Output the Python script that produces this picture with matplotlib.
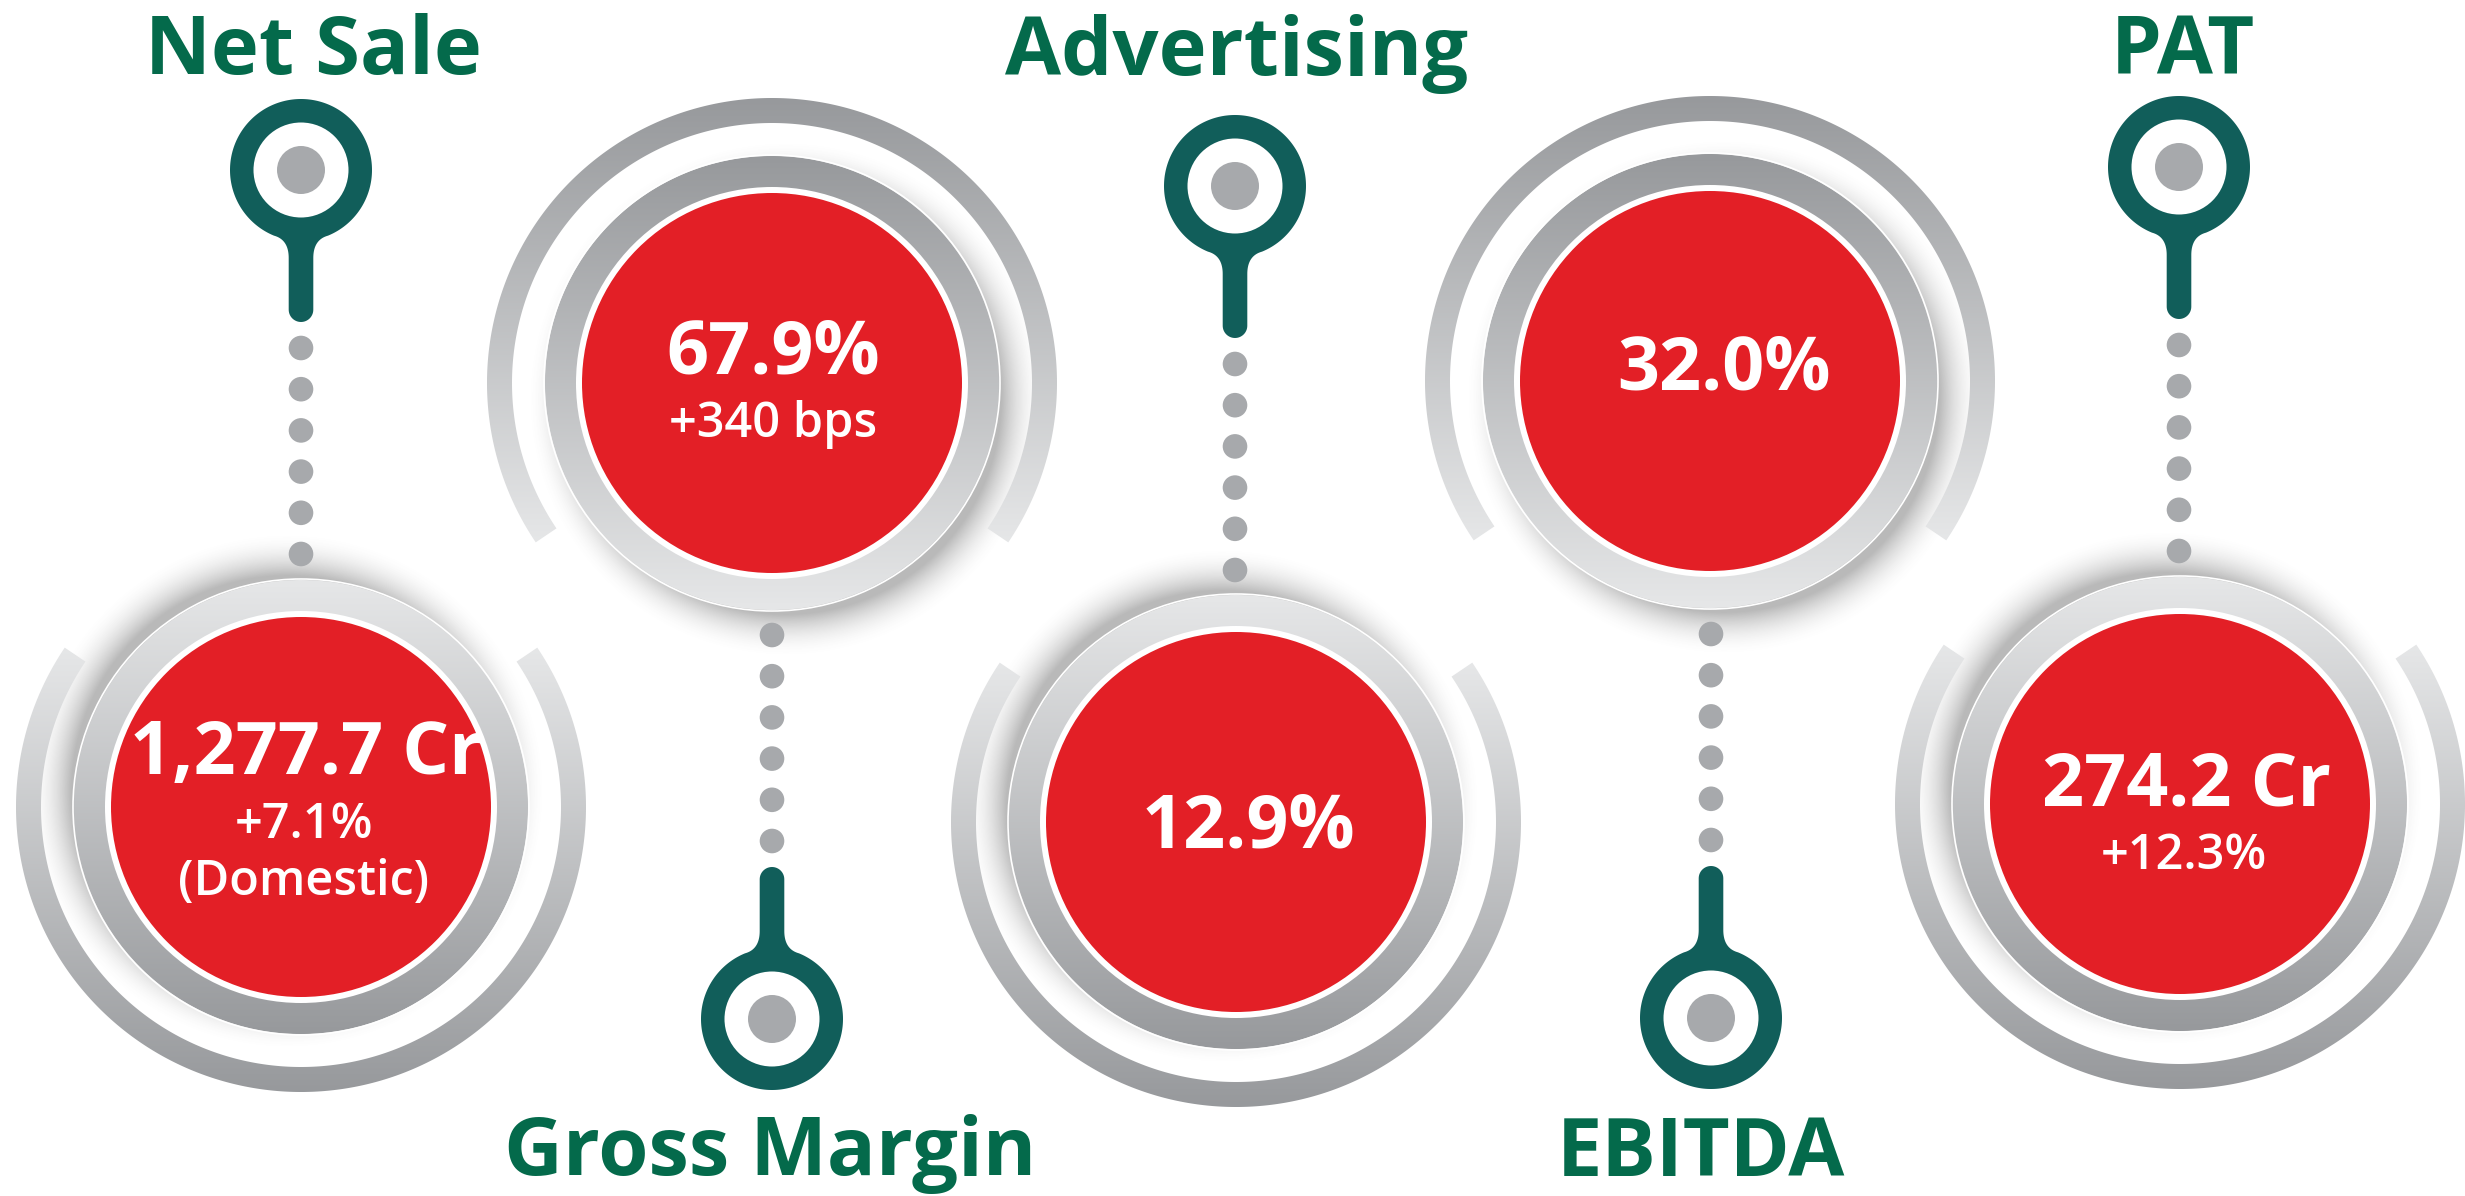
import numpy as np
import matplotlib
matplotlib.use("Agg")
import matplotlib.pyplot as plt
from matplotlib.patches import Circle, PathPatch
from matplotlib.path import Path
from matplotlib.colors import LinearSegmentedColormap

# ---- content ----
titles = ["Net Sale", "Gross Margin", "Advertising", "EBITDA", "PAT"]
main_values = ["1,277.7 Cr", "67.9%", "12.9%", "32.0%", "274.2 Cr"]
sub_values = [["+7.1%", "(Domestic)"], ["+340 bps"], [], [], ["+12.3%"]]

# ---- layout (pixels) ----
W, H = 2465, 1196
ring_cx = [301, 772, 1236, 1710, 2180]
ring_cy = [807, 383, 822, 381, 804]
pin_x = [301, 772, 1235, 1711, 2179]
pin_y = [170, 1019, 186, 1018, 167]
title_x = [313, 770, 1237, 1701, 2183]
title_base = [74, 1175, 75, 1176, 75]
main_x = [306, 773, 1248, 1724, 2186]
main_base = [774, 373, 848, 389, 806]
sub_x = [[304, 304], [773], [], [], [2184]]
sub_base = [[838, 895], [437], [], [], [869]]
pin_down = [True, False, True, False, True]
n_dots = 6

RED = "#e31f26"
TEAL = "#115e5a"
GREEN = "#046a4b"
DOT = "#a7a9ac"
LIGHT = "#e6e7e8"
DARK = "#97999c"
FONT = "Open Sans"

fig = plt.figure(figsize=(W / 100, H / 100), dpi=100)
ax = fig.add_axes([0, 0, 1, 1])
ax.set_axis_off()


def annulus(cx, cy, r_out, r_in, a0=0.0, a1=360.0):
    """angles measured in screen sense, clockwise from +x with y pointing down"""
    t = np.radians(np.linspace(a0, a1, 400))
    outer = np.c_[cx + r_out * np.cos(t), cy + r_out * np.sin(t)]
    inner = np.c_[cx + r_in * np.cos(t[::-1]), cy + r_in * np.sin(t[::-1])]
    if a1 - a0 >= 360:
        v = np.vstack([outer, outer[:1], inner, inner[:1]])
        c = ([Path.MOVETO] + [Path.LINETO] * 399 + [Path.CLOSEPOLY]) * 2
        return Path(v, c)
    v = np.vstack([outer, inner, outer[:1]])
    c = [Path.MOVETO] + [Path.LINETO] * 799 + [Path.CLOSEPOLY]
    return Path(v, c)


def gradient(path, top, bottom, y_top, y_bottom, x0, x1, z):
    cm = LinearSegmentedColormap.from_list("g", [top, bottom])
    arr = np.linspace(0, 1, 256).reshape(-1, 1)
    im = ax.imshow(arr, cmap=cm, vmin=0, vmax=1, origin="upper", aspect="auto",
                   extent=(x0, x1, y_bottom, y_top), zorder=z, interpolation="bilinear")
    patch = PathPatch(path, fc="none", ec="none", transform=ax.transData)
    ax.add_patch(patch)
    im.set_clip_path(patch)


def shadow(cx, cy, r, dx, dy, width, strength, z):
    s = r + width + 30
    xs = np.arange(cx - s, cx + s + 1)
    ys = np.arange(cy - s, cy + s + 1)
    X, Y = np.meshgrid(xs, ys)
    d = np.hypot(X - cx - dx, Y - cy - dy)
    a = np.clip(1 - (d - r) / width, 0, 1) ** 2 * strength
    rgba = np.zeros(X.shape + (4,))
    rgba[..., :3] = 0.35
    rgba[..., 3] = a
    ax.imshow(rgba, origin="upper", aspect="auto", zorder=z,
              extent=(xs[0], xs[-1], ys[-1], ys[0]), interpolation="bilinear")


def pin_path(x, y, sign):
    # outline of the pin head + stem, built on the right side then mirrored
    R, hw, neck_x, stem = 71.0, 12.3, 27.0, 152.0
    neck_y = np.sqrt(R ** 2 - neck_x ** 2)
    start = np.arctan2(neck_y, neck_x)
    a = np.linspace(start, np.pi - start - 2 * np.pi, 300)
    head = np.c_[R * np.cos(a), R * np.sin(a)]
    u = np.linspace(0, 1, 30)[:, None]
    p0, p1, p2 = np.array([-neck_x, neck_y]), np.array([-hw, neck_y + 4]), np.array([-hw, 88.0])
    left = (1 - u) ** 2 * p0 + 2 * u * (1 - u) * p1 + u ** 2 * p2
    b = np.linspace(np.pi, 0, 30)
    cap = np.c_[hw * np.cos(b), stem - hw + hw * np.sin(b)]
    right = left[::-1] * np.array([-1, 1])
    pts = np.vstack([head, left, cap, right])
    pts = np.c_[x + pts[:, 0], y + sign * pts[:, 1]]
    return Path(np.vstack([pts, pts[:1]]), [Path.MOVETO] + [Path.LINETO] * (len(pts) - 1) + [Path.CLOSEPOLY])


for i in range(len(titles)):
    cx, cy = ring_cx[i], ring_cy[i]
    down = pin_down[i]
    top_col, bot_col = (LIGHT, DARK) if down else (DARK, LIGHT)
    sdx, sdy = (-14, -16) if down else (14, 16)

    # soft shadow behind the ring
    shadow(cx, cy, 216, sdx, sdy, 44, 0.42, 1)

    # outer open arcs (through bottom for the lower circles, through top for the upper)
    gap = 34
    if down:
        arc = annulus(cx, cy, 285, 260, -gap, 180 + gap)
        y0, y1 = cy - 160, cy + 285
    else:
        arc = annulus(cx, cy, 285, 260, 180 - gap, 360 + gap)
        y0, y1 = cy - 285, cy + 160
    gradient(arc, top_col, bot_col, y0, y1, cx - 290, cx + 290, 2)

    # main ring
    ring = annulus(cx, cy, 227, 190)
    gradient(ring, top_col, bot_col, cy - 227, cy + 227, cx - 230, cx + 230, 3)
    ax.add_patch(Circle((cx, cy), 228, fc="none", ec="white", lw=1.2, zorder=4))

    # red disc with white edge
    ax.add_patch(Circle((cx, cy), 196, fc="white", ec="none", zorder=5))
    ax.add_patch(Circle((cx, cy), 190, fc=RED, ec="none", zorder=6))

    # pin
    sign = 1 if down else -1
    px, py = pin_x[i], pin_y[i]
    ax.add_patch(PathPatch(pin_path(px, py, sign), fc=TEAL, ec="none", zorder=7))
    ax.add_patch(Circle((px, py), 47.5, fc="white", ec="none", zorder=8))
    ax.add_patch(Circle((px, py), 24, fc=DOT, ec="none", zorder=9))

    # dotted connector
    for k in range(n_dots):
        ax.add_patch(Circle((px, py + sign * (178 + 41.2 * k)), 12.3, fc=DOT, ec="none", zorder=7))

    # texts
    ax.text(title_x[i], title_base[i], titles[i], family=FONT, weight="bold", fontsize=58.5,
            color=GREEN, ha="center", va="baseline", zorder=10)
    ax.text(main_x[i], main_base[i], main_values[i], family=FONT, weight="bold", fontsize=53,
            color="white", ha="center", va="baseline", zorder=10)
    for s, sx, sy in zip(sub_values[i], sub_x[i], sub_base[i]):
        ax.text(sx, sy, s, family=FONT, weight="semibold", fontsize=35,
                color="white", ha="center", va="baseline", zorder=10)

ax.set_xlim(0, W)
ax.set_ylim(H, 0)
fig.savefig("out.png", dpi=100, facecolor="white")
